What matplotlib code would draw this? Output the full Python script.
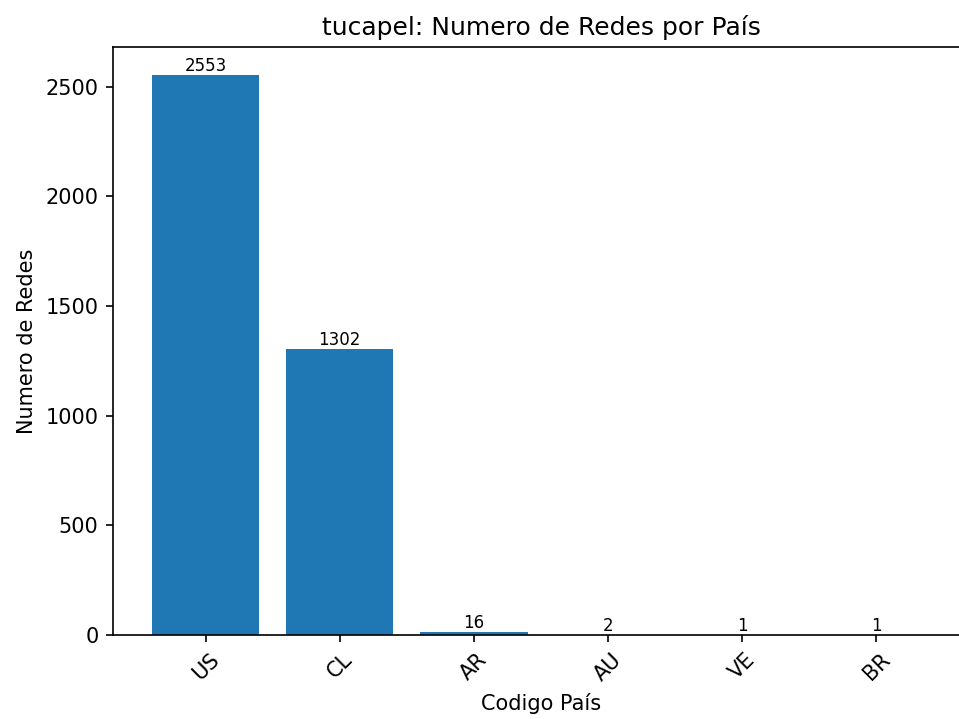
import matplotlib
matplotlib.use("Agg")
import matplotlib.pyplot as plt

paises = ["US", "CL", "AR", "AU", "VE", "BR"]
redes = [2553, 1302, 16, 2, 1, 1]

fig = plt.figure(figsize=(9.59 / 1.5, 7.19 / 1.5), dpi=150)
ax = fig.add_axes([0.1178, 0.1168, 1.0105 - 0.1178, 0.9346 - 0.1168])
bars = ax.bar(range(len(paises)), redes, color="#1f77b4")
for i, v in enumerate(redes):
    ax.text(i, v, str(v), ha="center", va="bottom", fontsize=8)
ax.set_xticks(range(len(paises)))
ax.set_xticklabels(paises, rotation=45)
ax.set_title("tucapel: Numero de Redes por País")
ax.set_xlabel("Codigo País")
ax.set_ylabel("Numero de Redes")
ax.spines["right"].set_visible(False)
fig.savefig("out.png", dpi=150)
